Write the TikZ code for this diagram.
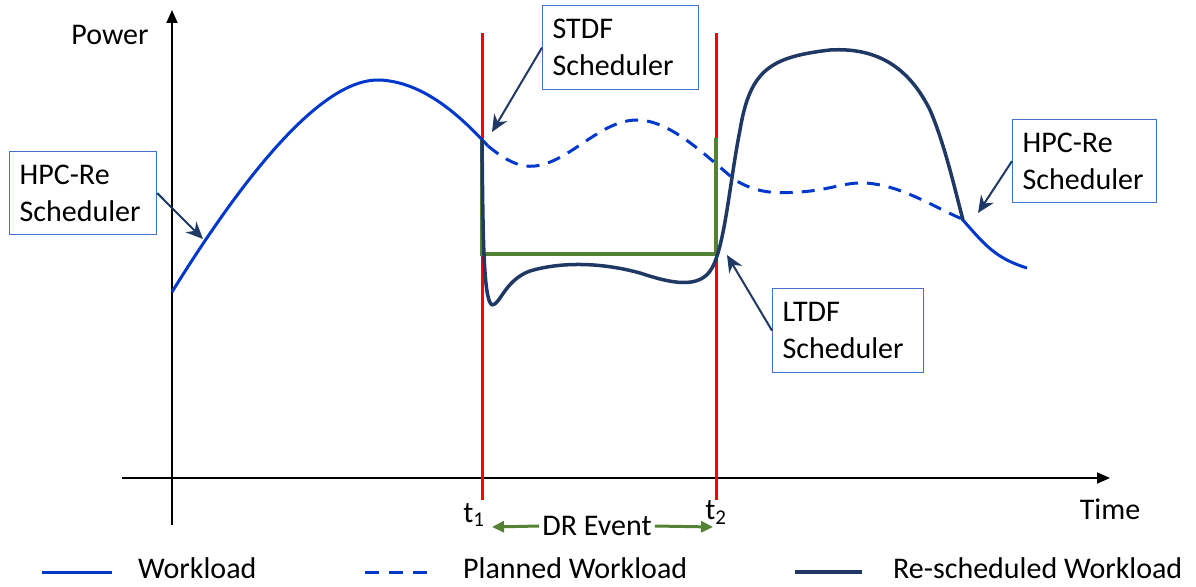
\documentclass[tikz,border=0pt]{standalone}
\usepackage{fontspec}
\setmainfont{Carlito}
\usetikzlibrary{arrows.meta}
\definecolor{wlblue}{RGB}{0,56,204}
\definecolor{navy}{RGB}{31,56,100}
\definecolor{drgreen}{RGB}{84,130,53}
\definecolor{boxblue}{RGB}{68,114,196}

\begin{document}
\begin{tikzpicture}[x=1pt,y=-1pt,
  lbl/.style={font=\fontsize{30}{36}\selectfont,inner sep=3pt},
  schedbox/.style={draw=boxblue,line width=1.2pt,fill=white,align=left,anchor=north west,
    inner xsep=10pt,font=\fontsize{30}{37}\selectfont},
  callout/.style={navy,line width=2pt,-{Stealth[length=17pt,width=15pt]}},
  workload/.style={wlblue,line width=3pt},
  planned/.style={wlblue,line width=3pt,dash pattern=on 13pt off 9pt},
  resched/.style={navy,line width=3.5pt},
  tline/.style={red,line width=3pt},
  dr/.style={drgreen,line width=3pt,-{Triangle[length=12pt,width=11pt]}},
  axis/.style={line width=1.8pt,-{Triangle[length=13pt,width=11pt]}}]
\useasboundingbox (0,0) rectangle (1196,586);

% axes
\coordinate (o1) at (172,525);
\coordinate (yend) at (172,10);
\coordinate (o2) at (122,478);
\coordinate (xend) at (1110,478);
\draw[axis] (o1) -- (yend);
\draw[axis] (o2) -- (xend);
\node[lbl] (power) at (110,35) {Power};
\node[lbl] (time) at (1110,509) {Time};

% DR event window
\coordinate (t1top) at (482,33);
\coordinate (t1bot) at (482,500);
\coordinate (t2top) at (716,33);
\coordinate (t2bot) at (716,500);
\draw[tline] (t1top) -- (t1bot);
\draw[tline] (t2top) -- (t2bot);
\draw[drgreen,line width=4.5pt] (482,138) -- (482,254) -- (716,254) -- (716,138);

% curves
\draw[workload] (172,292) .. controls (260,150) and (330,78) .. (380,80)
  .. controls (420,82) and (455,110) .. (488,146);
\draw[planned] (488,146) .. controls (505,160) and (520,168) .. (535,166)
  .. controls (570,162) and (600,120) .. (637,120)
  .. controls (670,120) and (705,155) .. (735,180)
  .. controls (760,195) and (780,193) .. (800,192)
  .. controls (830,190) and (845,182) .. (865,183)
  .. controls (900,185) and (930,205) .. (962,219);
\draw[workload] (962,219) .. controls (985,245) and (995,258) .. (1027,268);
\draw[resched,line join=round] (482,140) .. controls (483,230) and (483,300) .. (492,305)
  .. controls (500,305) and (505,280) .. (530,271)
  .. controls (560,262) and (600,262) .. (640,273)
  .. controls (670,283) and (700,290) .. (712,268)
  .. controls (725,245) and (730,180) .. (740,130)
  .. controls (750,70) and (770,57) .. (830,50)
  .. controls (880,47) and (910,70) .. (930,110)
  .. controls (945,145) and (955,190) .. (963,220);

% scheduler callouts
\node[schedbox,text width=136pt,minimum height=84pt] (stdf) at (542,5) {STDF\\Scheduler};
\node[schedbox,text width=127pt,minimum height=83pt] (hpcl) at (9,151) {HPC-Re\\Scheduler};
\node[schedbox,text width=131pt,minimum height=84pt] (ltdf) at (772,288) {LTDF\\Scheduler};
\node[schedbox,text width=124pt,minimum height=83pt] (hpcr) at (1012,119) {HPC-Re\\Scheduler};
\coordinate (stdfpt) at (492,132);
\coordinate (hpclpt) at (203,239);
\coordinate (ltdfpt) at (727,255);
\coordinate (hpcrpt) at (978,213);
\draw[callout] (stdf.west) -- (stdfpt);
\draw[callout] (hpcl.east) -- (hpclpt);
\draw[callout] (ltdf.west) -- (ltdfpt);
\draw[callout] (hpcr.west) -- (hpcrpt);

% time labels
\node[lbl,anchor=base] (t1) at (474,522) {t\textsubscript{1}};
\node[lbl,anchor=base] (t2) at (716,519) {t\textsubscript{2}};
\node[lbl] (drev) at (597,526) {DR Event};
\coordinate (drl) at (492,527);
\coordinate (drr) at (713,527);
\draw[dr] (drev.west) -- (drl);
\draw[dr] (drev.east) -- (drr);

% legend
\draw[workload] (42,572) -- (112,572);
\draw[planned,dash pattern=on 14pt off 10pt] (365,572) -- (430,572);
\draw[resched] (795,572) -- (862,572);
\node[lbl,anchor=base west,inner sep=0pt] (lgw) at (138,578) {Workload};
\node[lbl,anchor=base west,inner sep=0pt] (lgp) at (463,578) {Planned Workload};
\node[lbl,anchor=base west,inner sep=0pt] (lgr) at (893,578) {Re-scheduled Workload};
\end{tikzpicture}
\end{document}
